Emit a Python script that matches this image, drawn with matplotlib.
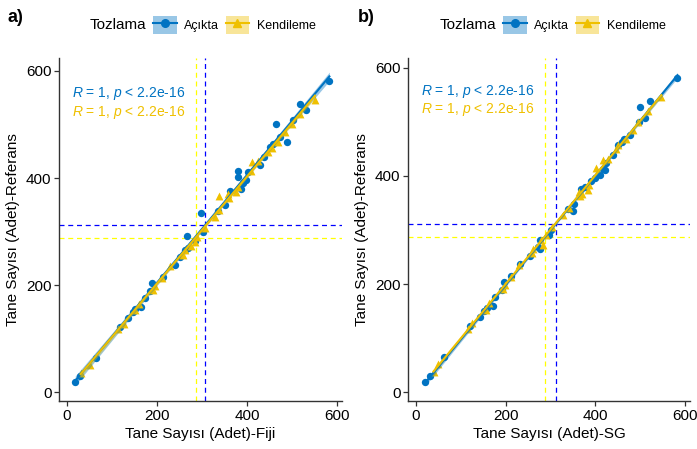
import numpy as np
import matplotlib
matplotlib.use("Agg")
import matplotlib.pyplot as plt
from matplotlib.patches import Patch
from matplotlib.lines import Line2D

plt.rcParams['font.family'] = ['Liberation Sans', 'DejaVu Sans']
plt.rcParams['mathtext.fontset'] = 'custom'
plt.rcParams['mathtext.rm'] = 'Liberation Sans'
plt.rcParams['mathtext.it'] = 'Liberation Sans:italic'

# Açıkta group: reference count, Fiji count, SG count
acik_ref = [19, 30, 65, 122, 139, 150, 156, 160, 176, 190, 204, 215, 238, 252, 265, 269, 282, 291, 300,
            335, 338, 349, 376, 380, 390, 396, 402, 413, 411, 424, 439, 458, 463, 468, 476, 500, 508,
            527, 539, 581]
acik_fiji = [18, 28, 63, 118, 136, 147, 150, 165, 173, 185, 188, 213, 239, 250, 262, 269, 284, 267, 302,
             297, 335, 350, 362, 385, 391, 398, 380, 379, 402, 428, 438, 450, 457, 488, 472, 463, 502,
             530, 517, 582]
acik_sg = [21, 31, 62, 120, 142, 152, 159, 173, 176, 191, 196, 212, 232, 254, 277, 272, 277, 298, 302,
           350, 340, 353, 368, 377, 390, 400, 410, 418, 423, 424, 440, 452, 459, 465, 477, 498, 511,
           501, 522, 584]

# Kendileme group
kend_ref = [37, 52, 118, 128, 153, 165, 191, 199, 214, 235, 257, 265, 273, 281, 290, 306, 328, 340,
            362, 366, 370, 374, 384, 414, 430, 431, 449, 457, 468, 485, 500, 520, 545]
kend_fiji = [30, 50, 113, 126, 150, 160, 191, 196, 210, 228, 258, 262, 276, 284, 288, 306, 328, 337,
             360, 336, 358, 375, 380, 408, 410, 424, 445, 455, 469, 484, 498, 516, 550]
kend_sg = [39, 48, 117, 125, 157, 163, 195, 199, 213, 230, 258, 262, 283, 280, 290, 304, 329, 342,
           366, 370, 364, 385, 386, 403, 418, 428, 446, 452, 470, 484, 496, 518, 548]

# mean reference lines
ref_mean = {'Açıkta': 312, 'Kendileme': 288}
fiji_mean = {'Açıkta': 306, 'Kendileme': 286}
sg_mean = {'Açıkta': 313, 'Kendileme': 289}

blue = '#0073C2'
yellow = '#EFC000'
groups = ['Açıkta', 'Kendileme']
colors = {'Açıkta': blue, 'Kendileme': yellow}
markers = {'Açıkta': 'o', 'Kendileme': '^'}
dash_cols = {'Açıkta': 'blue', 'Kendileme': 'yellow'}

W, H = 697, 449


def draw_smooth(ax, x, y, color):
    x = np.asarray(x, float)
    y = np.asarray(y, float)
    b, a = np.polyfit(x, y, 1)
    xs = np.linspace(x.min(), x.max(), 80)
    ys = a + b * xs
    resid = y - (a + b * x)
    n = len(x)
    s = np.sqrt(np.sum(resid ** 2) / (n - 2))
    se = s * np.sqrt(1 / n + (xs - x.mean()) ** 2 / np.sum((x - x.mean()) ** 2))
    ax.fill_between(xs, ys - 2.03 * se, ys + 2.03 * se, color=color, alpha=0.4, lw=0, zorder=4)
    ax.plot(xs, ys, color=color, lw=1.5, zorder=5)


def panel(ax, xdata, xmeans, xlabel, letter, off):
    ydata = {'Açıkta': acik_ref, 'Kendileme': kend_ref}
    for g in groups:
        ax.scatter(xdata[g], ydata[g], s=28 if g == 'Açıkta' else 32, marker=markers[g],
                   color=colors[g], lw=0, zorder=3)
    for g in groups:
        draw_smooth(ax, xdata[g], ydata[g], colors[g])
    for g in ['Kendileme', 'Açıkta']:
        ax.axvline(xmeans[g], color=dash_cols[g], lw=0.9, dashes=(4, 3), zorder=2)
        ax.axhline(ref_mean[g], color=dash_cols[g], lw=0.9, dashes=(4, 3), zorder=2)
    lab = r'$R$ = 1, $p$ < 2.2e-16'
    ax.text(10, 557, lab, color=blue, fontsize=10, va='center')
    ax.text(10, 522, lab, color=yellow, fontsize=10, va='center')
    ax.set_xticks([0, 200, 400, 600])
    ax.set_yticks([0, 200, 400, 600])
    for sp in ['top', 'right']:
        ax.spines[sp].set_visible(False)
    for sp in ['left', 'bottom']:
        ax.spines[sp].set_color('#333333')
        ax.spines[sp].set_linewidth(1.0)
    ax.tick_params(labelsize=11, length=3.6, width=0.9, pad=1.8, color='#333333', labelcolor='black')
    ax.set_xlabel(xlabel, fontsize=11, labelpad=3)
    ax.set_ylabel('Tane Sayısı (Adet)-Referans', fontsize=11, labelpad=4)

    fig.text((8 + off) / W, 1 - 17 / H, letter, fontsize=13, fontweight='bold', va='center')
    fig.text((90 + off) / W, 1 - 25 / H, 'Tozlama', fontsize=11, va='center')
    handles = [(Patch(facecolor=colors[g], alpha=0.4, lw=0),
                Line2D([0], [0], color=colors[g], lw=1.5, marker=markers[g], ms=5.5))
               for g in groups]
    fig.legend(handles, groups, loc='center left', bbox_to_anchor=((153 + off) / W, 1 - 25 / H),
               ncol=2, frameon=False, fontsize=9, handlelength=1.9, handleheight=1.8,
               handletextpad=0.6, columnspacing=0.5, borderpad=0, borderaxespad=0)


fig = plt.figure(figsize=(6.97, 4.49), dpi=100)
ax1 = fig.add_axes([59 / W, 1 - 401 / H, (342 - 59) / W, (401 - 58) / H])
ax2 = fig.add_axes([408 / W, 1 - 401 / H, (690 - 408) / W, (401 - 58) / H])
ax1.set_xlim(-18, 610)
ax1.set_ylim(-16, 624)
ax2.set_xlim(-18, 612)
ax2.set_ylim(-16, 618)

panel(ax1, {'Açıkta': acik_fiji, 'Kendileme': kend_fiji}, fiji_mean, 'Tane Sayısı (Adet)-Fiji', 'a)', 0)
panel(ax2, {'Açıkta': acik_sg, 'Kendileme': kend_sg}, sg_mean, 'Tane Sayısı (Adet)-SG', 'b)', 350)

fig.savefig('out.png', dpi=100)
